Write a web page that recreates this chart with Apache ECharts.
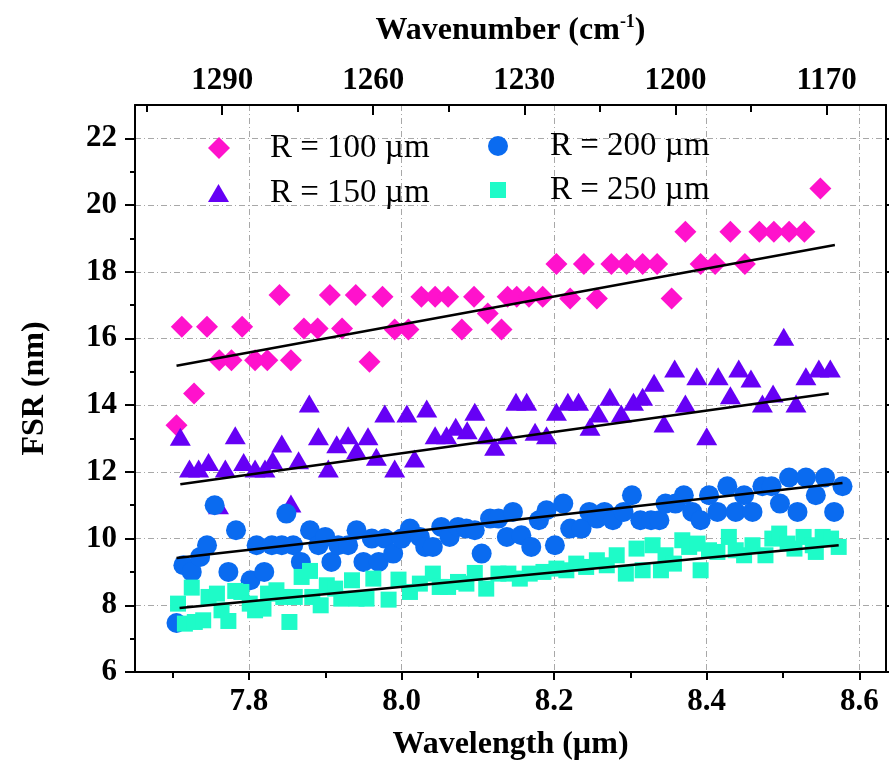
<!DOCTYPE html>
<html><head><meta charset="utf-8">
<script src="https://cdn.jsdelivr.net/npm/echarts@6/dist/echarts.min.js"></script>
<style>html,body{margin:0;padding:0;background:#fff}#c{width:889px;height:771px}</style>
</head><body><div id="c"></div>
<script>
const xMajorTicks = [7.8, 8.0, 8.2, 8.4, 8.6];
const xMinorTicks = [7.7, 7.9, 8.1, 8.3, 8.5];
const yMajorTicks = [6, 8, 10, 12, 14, 16, 18, 20, 22];
const yMinorTicks = [7, 9, 11, 13, 15, 17, 19, 21];
const topMajorTicks = [1290, 1260, 1230, 1200, 1170];
const topMinorTicks = [1305, 1275, 1245, 1215, 1185];
const seriesNames = ['R = 100 µm', 'R = 150 µm', 'R = 200 µm', 'R = 250 µm'];

const r100 = [[7.705,13.4],[7.712,16.35],[7.728,14.35],[7.745,16.35],[7.761,15.35],[7.777,15.35],[7.791,16.35],[7.808,15.35],[7.824,15.35],[7.840,17.3],[7.855,15.35],[7.872,16.3],[7.890,16.3],[7.906,17.3],[7.922,16.3],[7.940,17.3],[7.958,15.3],[7.975,17.25],[7.991,16.27],[8.009,16.27],[8.026,17.25],[8.044,17.25],[8.061,17.25],[8.079,16.27],[8.095,17.25],[8.113,16.75],[8.131,16.27],[8.139,17.25],[8.151,17.25],[8.167,17.25],[8.185,17.25],[8.203,18.23],[8.221,17.2],[8.239,18.23],[8.256,17.2],[8.275,18.23],[8.295,18.23],[8.316,18.23],[8.335,18.23],[8.354,17.2],[8.372,19.2],[8.392,18.23],[8.411,18.23],[8.431,19.2],[8.450,18.23],[8.469,19.2],[8.488,19.2],[8.508,19.2],[8.528,19.2],[8.549,20.5]];

const r150 = [[7.710,13.05],[7.722,12.1],[7.734,12.1],[7.747,12.3],[7.760,11.0],[7.769,12.1],[7.782,13.1],[7.793,12.3],[7.808,12.1],[7.821,12.1],[7.831,12.35],[7.843,12.85],[7.855,11.05],[7.865,12.35],[7.879,14.05],[7.891,13.07],[7.904,12.1],[7.915,12.83],[7.930,13.1],[7.941,12.65],[7.956,13.07],[7.967,12.45],[7.978,13.75],[7.991,12.1],[8.007,13.75],[8.017,12.4],[8.033,13.9],[8.044,13.1],[8.059,13.1],[8.071,13.35],[8.086,13.25],[8.096,13.8],[8.111,13.1],[8.122,12.75],[8.138,13.1],[8.150,14.1],[8.164,14.1],[8.175,13.2],[8.190,13.1],[8.203,13.8],[8.218,14.1],[8.232,14.1],[8.247,13.35],[8.258,13.75],[8.273,14.25],[8.288,13.75],[8.304,14.1],[8.316,14.25],[8.331,14.67],[8.344,13.45],[8.358,15.1],[8.372,14.05],[8.387,14.87],[8.400,13.07],[8.415,14.87],[8.431,14.3],[8.442,15.1],[8.458,14.8],[8.473,14.05],[8.487,14.35],[8.501,16.05],[8.517,14.05],[8.530,14.87],[8.547,15.1],[8.562,15.1]];

const r200 = [[7.705,7.47],[7.714,9.2],[7.725,9.0],[7.736,9.45],[7.745,9.8],[7.755,11.0],[7.773,9.0],[7.783,10.25],[7.802,8.75],[7.810,9.8],[7.820,9.0],[7.830,9.8],[7.843,9.8],[7.849,10.75],[7.858,9.8],[7.868,9.3],[7.880,10.25],[7.891,9.8],[7.900,10.05],[7.908,9.3],[7.917,9.8],[7.930,9.8],[7.941,10.25],[7.950,9.3],[7.961,10.0],[7.970,9.3],[7.978,10.0],[7.989,9.55],[8.000,10.0],[8.011,10.3],[8.024,10.05],[8.031,9.75],[8.041,9.75],[8.052,10.35],[8.063,10.05],[8.074,10.35],[8.085,10.3],[8.096,10.25],[8.105,9.55],[8.116,10.6],[8.127,10.6],[8.138,10.05],[8.146,10.8],[8.157,10.1],[8.170,9.75],[8.180,10.55],[8.190,10.85],[8.201,9.8],[8.212,11.05],[8.221,10.3],[8.236,10.3],[8.246,10.8],[8.256,10.6],[8.266,10.8],[8.277,10.55],[8.291,10.8],[8.302,11.3],[8.313,10.55],[8.327,10.55],[8.338,10.55],[8.346,11.05],[8.359,11.05],[8.370,11.3],[8.381,10.8],[8.392,10.55],[8.403,11.3],[8.414,10.8],[8.427,11.57],[8.438,10.8],[8.449,11.3],[8.460,10.8],[8.473,11.57],[8.485,11.57],[8.496,11.05],[8.508,11.83],[8.519,10.8],[8.530,11.83],[8.543,11.3],[8.555,11.83],[8.567,10.8],[8.578,11.57]];

const r250 = [[7.707,8.05],[7.716,7.45],[7.725,8.53],[7.729,7.5],[7.740,7.55],[7.747,8.25],[7.758,8.35],[7.764,7.85],[7.773,7.53],[7.782,8.43],[7.790,8.4],[7.801,8.05],[7.808,7.85],[7.819,7.9],[7.825,8.35],[7.836,8.45],[7.845,8.25],[7.853,7.5],[7.860,8.25],[7.869,8.85],[7.880,9.03],[7.883,8.25],[7.894,8.0],[7.902,8.6],[7.913,8.5],[7.921,8.2],[7.935,8.75],[7.941,8.2],[7.954,8.2],[7.963,8.8],[7.983,8.17],[7.996,8.77],[8.011,8.4],[8.024,8.65],[8.041,8.95],[8.050,8.55],[8.061,8.55],[8.074,8.7],[8.085,8.65],[8.096,8.97],[8.111,8.5],[8.127,8.95],[8.140,8.95],[8.155,8.8],[8.168,8.95],[8.186,9.0],[8.203,9.1],[8.216,9.05],[8.229,9.25],[8.242,9.15],[8.256,9.35],[8.269,9.2],[8.282,9.5],[8.294,8.95],[8.308,9.7],[8.316,9.05],[8.329,9.8],[8.340,9.05],[8.346,9.5],[8.357,9.25],[8.368,9.95],[8.377,9.75],[8.388,9.85],[8.392,9.05],[8.403,9.65],[8.414,9.6],[8.429,10.05],[8.438,9.65],[8.449,9.5],[8.460,9.8],[8.477,9.5],[8.486,10.0],[8.495,10.15],[8.506,9.85],[8.515,9.7],[8.527,10.05],[8.539,9.8],[8.543,9.6],[8.552,10.05],[8.563,10.0],[8.573,9.75]];

const fit100 = [[7.705,15.18],[8.568,18.80]];
const fit150 = [[7.710,11.63],[8.560,14.35]];
const fit200 = [[7.705,9.42],[8.578,11.67]];
const fit250 = [[7.709,7.92],[8.573,9.80]];

const FONT = 'Liberation Serif';
const chart = echarts.init(document.getElementById('c'), null, {renderer: 'canvas'});
const black = '#000';
const axisLine = {show: true, lineStyle: {color: black, width: 2}};
const grid = {color: '#a8a8a8', width: 1, type: [6, 3, 1, 3]};
const bold = {fontFamily: FONT, fontWeight: 'bold', color: black};

function legendFor(name, left, top, w, h, gap) {
  return {
    data: [name], left: left, top: top, padding: 0, itemWidth: w, itemHeight: h,
    orient: 'vertical',
    formatter: n => '{g|}' + n,
    textStyle: {fontFamily: FONT, fontSize: 33, color: black, lineHeight: 34, rich: {g: {width: gap}}}
  };
}

const xMin = 7.6506, xMax = 8.635;
const yMin = 6, yMax = 23;
const wMin = 1158.2, wMax = 1307.3;

chart.setOption({
  animation: false,
  backgroundColor: '#fff',
  grid: {left: 135, right: 3, top: 105, bottom: 99, containLabel: false},
  legend: [
    legendFor(seriesNames[0], 208, 131, 22, 22, 35),
    legendFor(seriesNames[1], 208, 176, 21, 18, 36),
    legendFor(seriesNames[2], 488, 129, 20, 20, 37),
    legendFor(seriesNames[3], 490, 173, 16, 16, 39)
  ],
  xAxis: [
    {type: 'value', position: 'bottom', min: xMin, max: xMax, splitNumber: 5,
     axisLine: axisLine,
     axisTick: {show: true, inside: false, length: 8, customValues: xMajorTicks, lineStyle: {color: black, width: 2}},
     axisLabel: {show: true, customValues: xMajorTicks, margin: 14, fontSize: 31, ...bold, formatter: v => v.toFixed(1)},
     splitLine: {show: true, lineStyle: grid},
     name: 'Wavelength (µm)', nameLocation: 'middle', nameGap: 57,
     nameTextStyle: {fontSize: 32, ...bold}},
    {type: 'value', position: 'bottom', min: xMin, max: xMax,
     axisLine: {show: false},
     axisTick: {show: true, inside: false, length: 6, customValues: xMinorTicks, lineStyle: {color: black, width: 2}},
     axisLabel: {show: false}, splitLine: {show: false}},
    {type: 'value', position: 'top', min: wMin, max: wMax, inverse: true, splitNumber: 5,
     axisLine: axisLine,
     axisTick: {show: true, inside: true, length: 10, customValues: topMajorTicks, lineStyle: {color: black, width: 2}},
     axisLabel: {show: true, customValues: topMajorTicks, margin: 9, fontSize: 31, ...bold, formatter: v => String(Math.round(v))},
     splitLine: {show: false},
     name: 'Wavenumber (cm{sup|-1})', nameLocation: 'middle', nameGap: 56,
     nameTextStyle: {fontSize: 32, ...bold, lineHeight: 36,
       rich: {sup: {fontSize: 18, fontFamily: FONT, fontWeight: 'bold', color: black, verticalAlign: 'top', lineHeight: 36, padding: [0, 0, 12, 0]}}}},
    {type: 'value', position: 'top', min: wMin, max: wMax, inverse: true,
     axisLine: {show: false},
     axisTick: {show: true, inside: true, length: 7, customValues: topMinorTicks, lineStyle: {color: black, width: 2}},
     axisLabel: {show: false}, splitLine: {show: false}}
  ],
  yAxis: [
    {type: 'value', position: 'left', min: yMin, max: yMax, splitNumber: 8,
     axisLine: axisLine,
     axisTick: {show: true, inside: false, length: 10, customValues: yMajorTicks, lineStyle: {color: black, width: 2}},
     axisLabel: {show: true, customValues: yMajorTicks, margin: 18, fontSize: 31, ...bold},
     splitLine: {show: true, lineStyle: grid},
     name: 'FSR (nm)', nameLocation: 'middle', nameGap: 84, nameRotate: 90,
     nameTextStyle: {fontSize: 32, ...bold}},
    {type: 'value', position: 'left', min: yMin, max: yMax,
     axisLine: {show: false},
     axisTick: {show: true, inside: false, length: 5, customValues: yMinorTicks, lineStyle: {color: black, width: 2}},
     axisLabel: {show: false}, splitLine: {show: false}},
    {type: 'value', position: 'right', min: yMin, max: yMax,
     axisLine: axisLine,
     axisTick: {show: true, inside: false, length: 6, customValues: yMajorTicks, lineStyle: {color: black, width: 2}},
     axisLabel: {show: false}, splitLine: {show: false}}
  ],
  series: [
    {name: seriesNames[0], type: 'scatter', data: r100, symbol: 'diamond', symbolSize: 22, itemStyle: {color: '#FF12CC', opacity: 1}, z: 2},
    {name: seriesNames[1], type: 'scatter', data: r150, symbol: 'triangle', symbolSize: [21, 18], itemStyle: {color: '#6600F5', opacity: 1}, z: 2},
    {name: seriesNames[2], type: 'scatter', data: r200, symbol: 'circle', symbolSize: 20, itemStyle: {color: '#0A6BF0', opacity: 1}, z: 2},
    {name: seriesNames[3], type: 'scatter', data: r250, symbol: 'rect', symbolSize: 16, itemStyle: {color: '#1EFBC8', opacity: 1}, z: 2},
    {type: 'line', data: fit100, showSymbol: false, symbol: 'none', lineStyle: {color: black, width: 2.5}, z: 5, silent: true},
    {type: 'line', data: fit150, showSymbol: false, symbol: 'none', lineStyle: {color: black, width: 2.5}, z: 5, silent: true},
    {type: 'line', data: fit200, showSymbol: false, symbol: 'none', lineStyle: {color: black, width: 2.5}, z: 5, silent: true},
    {type: 'line', data: fit250, showSymbol: false, symbol: 'none', lineStyle: {color: black, width: 2.5}, z: 5, silent: true}
  ]
});
</script></body></html>
